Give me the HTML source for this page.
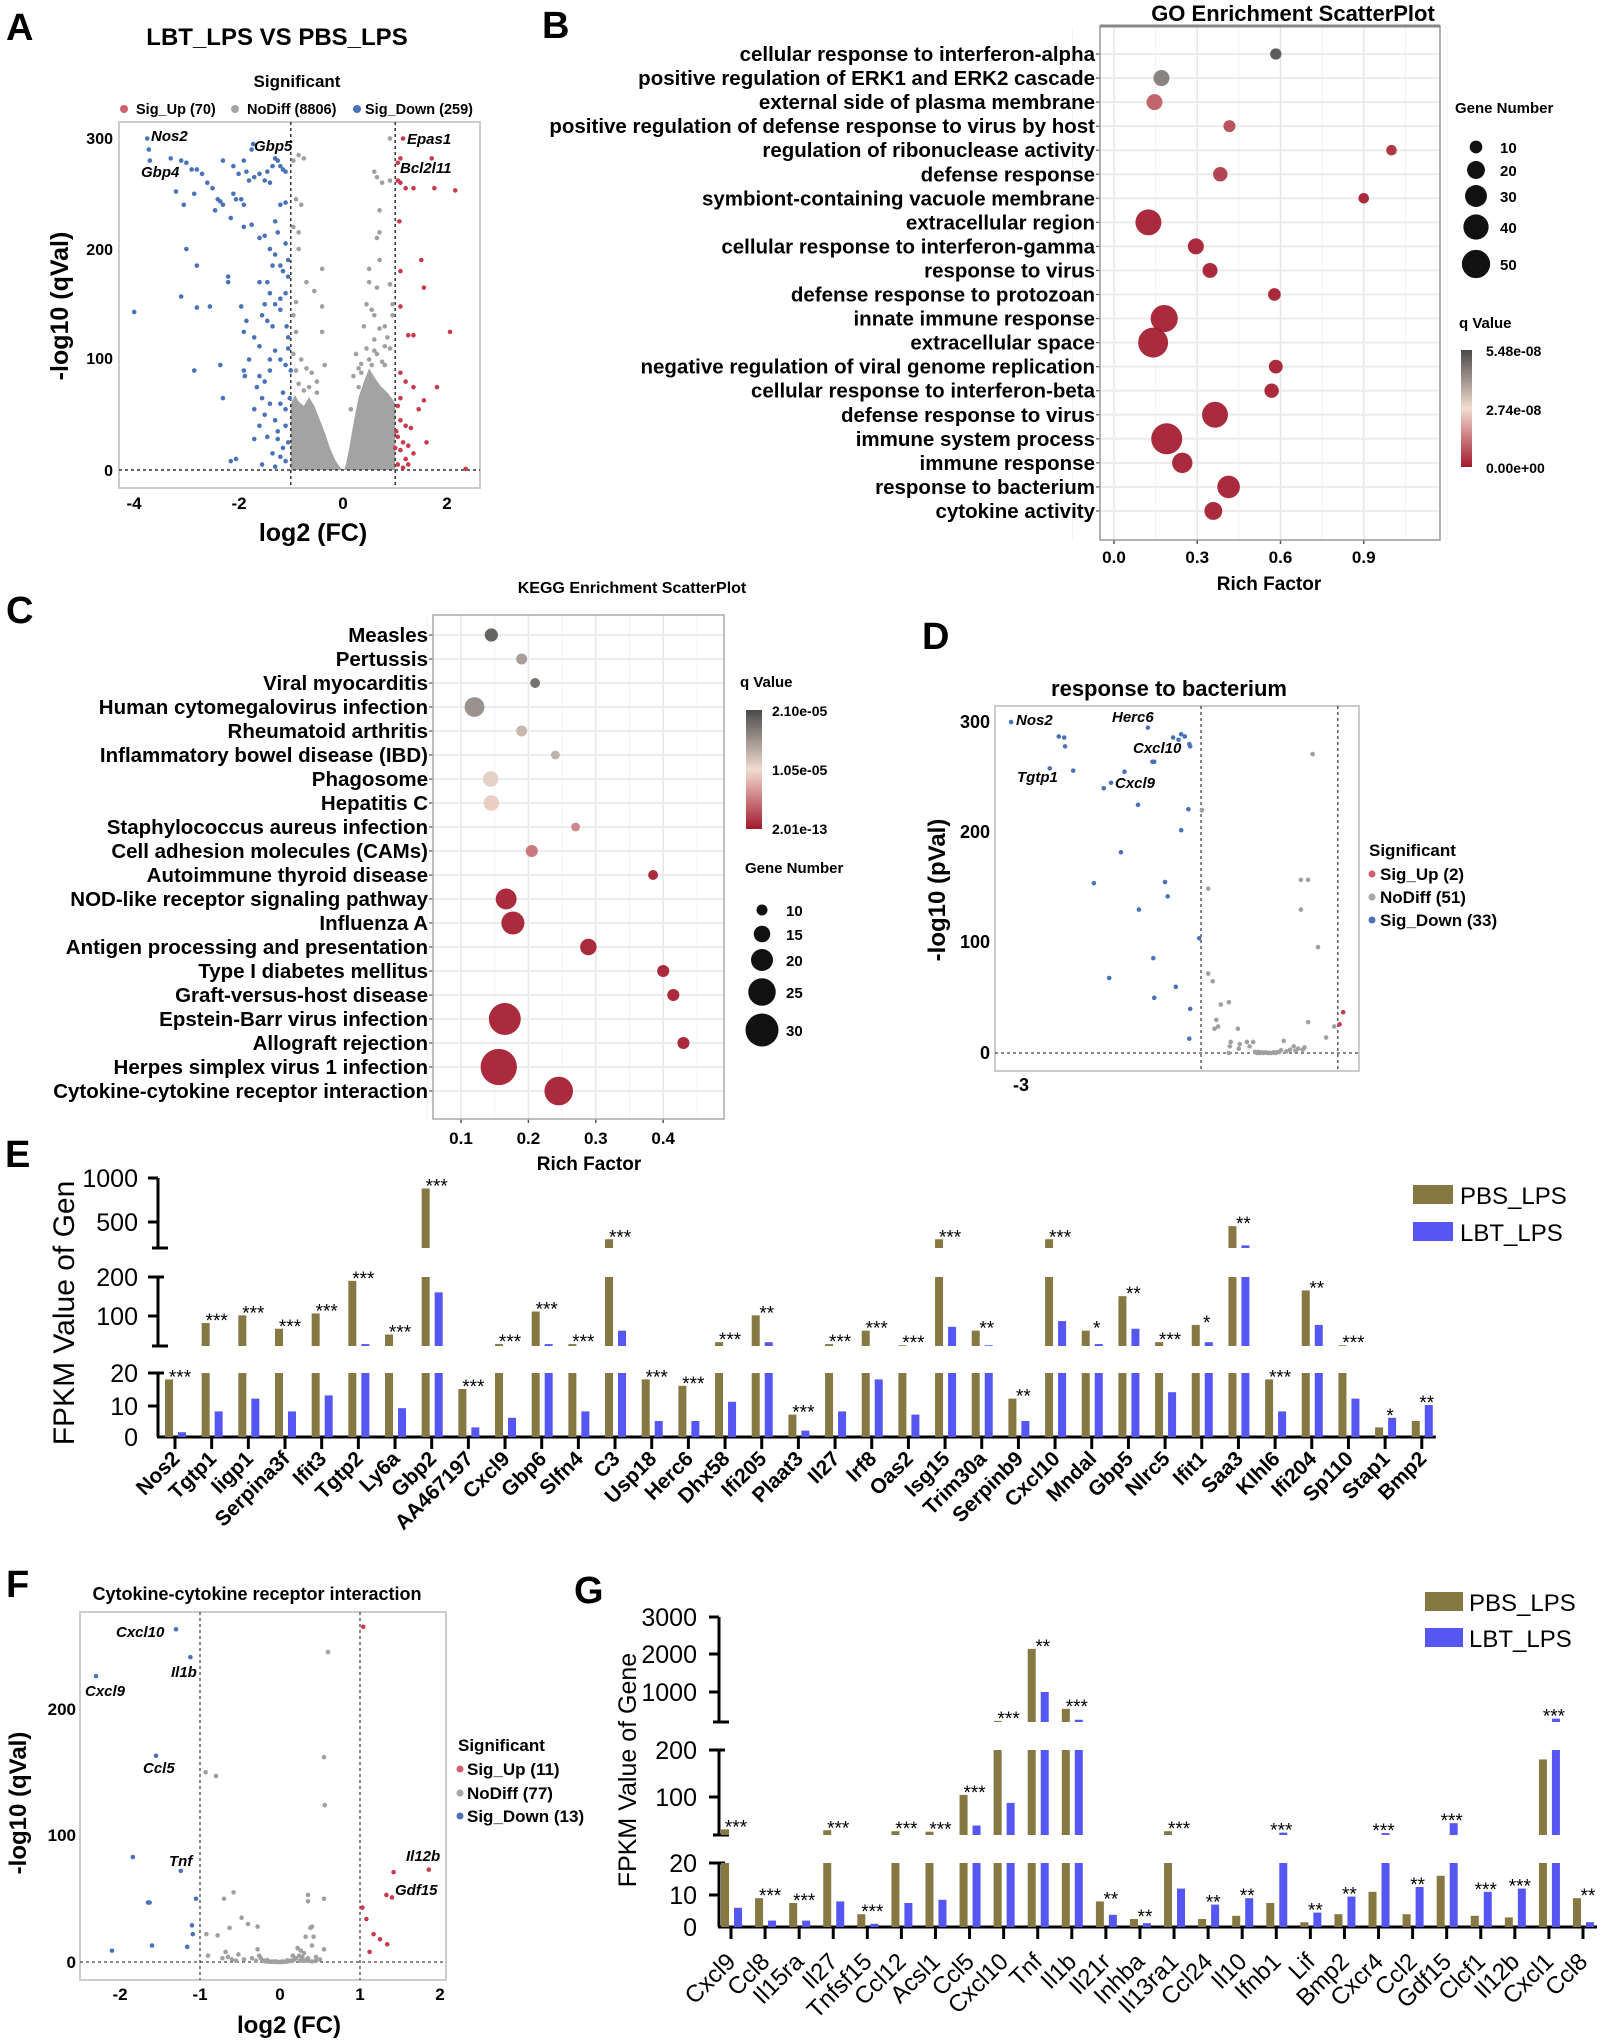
<!DOCTYPE html>
<html><head><meta charset="utf-8">
<style>
html,body{margin:0;padding:0;background:#fff;}
svg{display:block;font-family:"Liberation Sans",Arial,sans-serif;}
.b{font-weight:bold;}
</style></head>
<body>
<svg id="fig" width="1602" height="2041" viewBox="0 0 1602 2041" xmlns="http://www.w3.org/2000/svg">
<defs>
<linearGradient id="gradB" x1="0" y1="0" x2="0" y2="1"><stop offset="0" stop-color="#4a4a4a"/><stop offset="0.5" stop-color="#f2dccf"/><stop offset="1" stop-color="#a3192c"/></linearGradient>
</defs>
<g class="b" font-size="38" fill="#000">
<text x="6" y="40">A</text>
<text x="542" y="38">B</text>
<text x="6" y="623">C</text>
<text x="922" y="649">D</text>
<text x="5" y="1167">E</text>
<text x="6" y="1597">F</text>
<text x="574" y="1603">G</text>
</g>

<g>
<text x="277" y="45" text-anchor="middle" class="b" font-size="24">LBT_LPS VS PBS_LPS</text>
<text x="297" y="87" text-anchor="middle" class="b" font-size="17">Significant</text>
<g class="b" font-size="14.5">
<circle cx="124" cy="109" r="4" fill="#d06070"/><text x="136" y="114">Sig_Up (70)</text>
<circle cx="235" cy="109" r="4" fill="#a6a6a6"/><text x="247" y="114">NoDiff (8806)</text>
<circle cx="357" cy="109" r="4" fill="#4a72b8"/><text x="365" y="114">Sig_Down (259)</text>
</g>
<rect x="119" y="122" width="361" height="366" fill="none" stroke="#cccccc" stroke-width="2"/>
<g class="b" font-size="16" text-anchor="end">
<text x="113" y="144">300</text><text x="113" y="255">200</text><text x="113" y="364">100</text><text x="113" y="476">0</text>
</g>
<g class="b" font-size="17" text-anchor="middle">
<text x="134" y="509">-4</text><text x="239" y="509">-2</text><text x="343" y="509">0</text><text x="447" y="509">2</text>
</g>
<text transform="translate(68,306) rotate(-90)" text-anchor="middle" class="b" font-size="25">-log10 (qVal)</text>
<text x="313" y="541" text-anchor="middle" class="b" font-size="25">log2 (FC)</text>
<g id="aMarks"></g>
<g font-style="italic" class="b" font-size="15">
<text x="151" y="141">Nos2</text><text x="141" y="177">Gbp4</text><text x="254" y="151">Gbp5</text><text x="407" y="144">Epas1</text><text x="400" y="173">Bcl2l11</text>
</g>
</g>

<g>
<text x="1293" y="21" text-anchor="middle" class="b" font-size="22">GO Enrichment ScatterPlot</text>
<g id="bGrid"></g>
<rect x="1100" y="26" width="340" height="514" fill="none" stroke="#999" stroke-width="1.5"/>
<line x1="1100" y1="26" x2="1440" y2="26" stroke="#888" stroke-width="3"/>
<g id="bMarks"></g>
<text x="1269" y="590" text-anchor="middle" class="b" font-size="19">Rich Factor</text>
<text x="1455" y="113" class="b" font-size="15">Gene Number</text>
<g id="bSizeLeg"></g>
<text x="1459" y="328" class="b" font-size="15">q Value</text>
<rect x="1461" y="350" width="11" height="117" fill="url(#gradB)"/>
<g class="b" font-size="14">
<text x="1486" y="356">5.48e-08</text><text x="1486" y="415">2.74e-08</text><text x="1486" y="473">0.00e+00</text>
</g>
</g>

<g>
<text x="632" y="593" text-anchor="middle" class="b" font-size="16">KEGG Enrichment ScatterPlot</text>
<g id="cGrid"></g>
<rect x="433" y="615" width="291" height="504" fill="none" stroke="#aaa" stroke-width="1.5"/>
<g id="cMarks"></g>
<text x="589" y="1170" text-anchor="middle" class="b" font-size="19">Rich Factor</text>
<text x="740" y="687" class="b" font-size="15">q Value</text>
<rect x="746" y="710" width="16" height="119" fill="url(#gradB)"/>
<g class="b" font-size="14">
<text x="772" y="716">2.10e-05</text><text x="772" y="775">1.05e-05</text><text x="772" y="834">2.01e-13</text>
</g>
<text x="745" y="873" class="b" font-size="15">Gene Number</text>
<g id="cSizeLeg"></g>
</g>

<g>
<text x="1169" y="696" text-anchor="middle" class="b" font-size="22">response to bacterium</text>
<rect x="995" y="706" width="364" height="365" fill="none" stroke="#cccccc" stroke-width="2"/>
<g class="b" font-size="18" text-anchor="end">
<text x="990" y="728">300</text><text x="990" y="838">200</text><text x="990" y="948">100</text><text x="990" y="1059">0</text>
</g>
<text x="1021" y="1091" text-anchor="middle" class="b" font-size="18">-3</text>
<text transform="translate(945,890) rotate(-90)" text-anchor="middle" class="b" font-size="24">-log10 (pVal)</text>
<g id="dMarks"></g>
<g font-style="italic" class="b" font-size="15">
<text x="1016" y="725">Nos2</text><text x="1112" y="722">Herc6</text><text x="1133" y="753">Cxcl10</text><text x="1017" y="782">Tgtp1</text><text x="1115" y="788">Cxcl9</text>
</g>
<text x="1369" y="856" class="b" font-size="17">Significant</text>
<g class="b" font-size="17">
<circle cx="1372" cy="874" r="3.5" fill="#d06070"/><text x="1380" y="880">Sig_Up (2)</text>
<circle cx="1372" cy="897" r="3.5" fill="#a6a6a6"/><text x="1380" y="903">NoDiff (51)</text>
<circle cx="1372" cy="920" r="3.5" fill="#4a72b8"/><text x="1380" y="926">Sig_Down (33)</text>
</g>
</g>

<g>
<g font-size="25" text-anchor="end">
<text x="138" y="1187">1000</text><text x="138" y="1231">500</text><text x="138" y="1286">200</text><text x="138" y="1325">100</text><text x="138" y="1382">20</text><text x="138" y="1415">10</text><text x="138" y="1446">0</text>
</g>
<g stroke="#000" stroke-width="3" fill="none">
<line x1="158" y1="1178" x2="158" y2="1248"/><line x1="148" y1="1178" x2="158" y2="1178"/><line x1="148" y1="1222" x2="158" y2="1222"/><line x1="152" y1="1248" x2="168" y2="1248"/>
<line x1="158" y1="1277" x2="158" y2="1346"/><line x1="148" y1="1277" x2="164" y2="1277"/><line x1="148" y1="1316" x2="158" y2="1316"/><line x1="152" y1="1346" x2="168" y2="1346"/>
<line x1="158" y1="1373" x2="158" y2="1437"/><line x1="148" y1="1373" x2="164" y2="1373"/><line x1="148" y1="1406" x2="158" y2="1406"/>
</g>
<text transform="translate(74,1313) rotate(-90)" text-anchor="middle" font-size="30">FPKM Value of Gen</text>
<g id="eMarks"></g>
<rect x="1413" y="1185" width="40" height="19" fill="#857843"/>
<text x="1460" y="1204" font-size="24">PBS_LPS</text>
<rect x="1413" y="1222" width="40" height="19" fill="#5656f2"/>
<text x="1460" y="1241" font-size="24">LBT_LPS</text>
</g>

<g>
<text x="257" y="1600" text-anchor="middle" class="b" font-size="18">Cytokine-cytokine receptor interaction</text>
<rect x="80" y="1612" width="366" height="368" fill="none" stroke="#cccccc" stroke-width="2"/>
<g class="b" font-size="17" text-anchor="end">
<text x="76" y="1715">200</text><text x="76" y="1841">100</text><text x="76" y="1968">0</text>
</g>
<g class="b" font-size="17" text-anchor="middle">
<text x="120" y="2000">-2</text><text x="200" y="2000">-1</text><text x="280" y="2000">0</text><text x="360" y="2000">1</text><text x="440" y="2000">2</text>
</g>
<text transform="translate(26,1803) rotate(-90)" text-anchor="middle" class="b" font-size="24">-log10 (qVal)</text>
<text x="289" y="2033" text-anchor="middle" class="b" font-size="24">log2 (FC)</text>
<g id="fMarks"></g>
<g font-style="italic" class="b" font-size="15">
<text x="116" y="1637">Cxcl10</text><text x="171" y="1677">Il1b</text><text x="85" y="1696">Cxcl9</text><text x="143" y="1773">Ccl5</text><text x="169" y="1866">Tnf</text><text x="406" y="1861">Il12b</text><text x="395" y="1895">Gdf15</text>
</g>
<text x="458" y="1751" class="b" font-size="17">Significant</text>
<g class="b" font-size="17">
<circle cx="460" cy="1769" r="3.5" fill="#d06070"/><text x="467" y="1775">Sig_Up (11)</text>
<circle cx="460" cy="1793" r="3.5" fill="#a6a6a6"/><text x="467" y="1799">NoDiff (77)</text>
<circle cx="460" cy="1816" r="3.5" fill="#4a72b8"/><text x="467" y="1822">Sig_Down (13)</text>
</g>
</g>

<g>
<g font-size="25" text-anchor="end">
<text x="697" y="1626">3000</text><text x="697" y="1663">2000</text><text x="697" y="1701">1000</text><text x="697" y="1759">200</text><text x="697" y="1806">100</text><text x="697" y="1872">20</text><text x="697" y="1904">10</text><text x="697" y="1936">0</text>
</g>
<g stroke="#000" stroke-width="3" fill="none">
<line x1="719" y1="1617" x2="719" y2="1722"/><line x1="709" y1="1617" x2="719" y2="1617"/><line x1="709" y1="1654" x2="719" y2="1654"/><line x1="709" y1="1692" x2="719" y2="1692"/><line x1="713" y1="1722" x2="729" y2="1722"/>
<line x1="719" y1="1750" x2="719" y2="1835"/><line x1="709" y1="1750" x2="725" y2="1750"/><line x1="709" y1="1797" x2="719" y2="1797"/><line x1="713" y1="1835" x2="729" y2="1835"/>
<line x1="719" y1="1863" x2="719" y2="1927"/><line x1="709" y1="1863" x2="725" y2="1863"/><line x1="709" y1="1895" x2="719" y2="1895"/>
</g>
<text transform="translate(636,1770) rotate(-90)" text-anchor="middle" font-size="25">FPKM Value of Gene</text>
<g id="gMarks"></g>
<rect x="1425" y="1592" width="38" height="19" fill="#857843"/>
<text x="1469" y="1611" font-size="24">PBS_LPS</text>
<rect x="1425" y="1628" width="38" height="19" fill="#5656f2"/>
<text x="1469" y="1647" font-size="24">LBT_LPS</text>
</g>
</svg>

<script>
const aDownX = [-3.75,-3.72,-3.7,-3.3,-3.1,-3.0,-2.8,-2.9,-2.7,-2.6,-2.5,-2.4,-2.35,-2.3,-2.45,-3.2,-3.05,-2.85,-2.3,-2.1,-2.0,-1.9,-1.85,-1.8,-1.7,-1.6,-1.5,-1.45,-1.4,-1.35,-1.3,-1.25,-1.2,-1.15,-1.1,-1.75,-1.72,-2.1,-2.05,-1.95,-1.9,-2.15,-1.9,-1.75,-1.2,-1.1,-1.3,-1.25,-1.5,-1.6,-1.4,-1.3,-1.2,-1.15,-1.35,-1.45,-1.6,-1.4,-1.5,-1.3,-1.55,-1.45,-1.35,-1.2,-1.1,-1.05,-1.05,-1.1,-2.2,-2.2,-2.8,-3.0,-3.1,-2.8,-2.55,-1.95,-1.85,-4.0,-1.9,-1.7,-1.6,-1.3,-1.2,-1.1,-1.4,-1.8,-1.9,-1.88,-2.35,-2.85,-2.3,-1.65,-1.5,-1.55,-1.4,-1.2,-1.1,-1.5,-1.3,-1.1,-1.6,-1.45,-1.25,-1.05,-1.35,-1.2,-1.1,-1.55,-1.3,-2.15,-2.05,-1.7,-1.15,-1.05,-1.08,-1.02,-1.0,-1.25,-1.15,-1.4,-1.6,-1.7,-1.05,-1.2];
const aDownY = [300,290,280,282,280,278,272,272,268,260,255,245,243,240,235,252,240,250,280,275,268,280,270,262,265,268,262,270,260,275,282,280,275,272,270,290,295,250,245,245,240,228,220,222,240,242,225,215,212,210,200,195,185,180,185,170,170,160,150,150,140,135,130,145,160,175,190,205,175,170,185,200,157,147,148,148,135,143,125,120,112,108,100,95,90,100,90,85,95,90,65,75,80,65,60,60,55,50,45,40,40,30,28,25,15,12,8,5,3,8,10,28,70,110,130,65,90,35,20,100,85,55,120,155];
const aUpX = [1.15,1.1,1.05,1.7,1.1,1.2,1.35,1.75,2.15,1.05,1.08,1.1,1.5,1.55,1.1,1.25,1.35,2.05,1.1,1.2,1.35,1.8,1.55,1.45,1.1,1.05,1.1,1.2,1.3,1.6,1.05,1.15,1.25,1.35,1.1,1.2,1.05,1.15,1.25,2.35,1.0,1.02];
const aUpY = [300,282,278,282,260,255,255,255,253,262,225,180,190,165,148,122,122,125,88,80,75,75,63,55,65,58,45,40,38,25,30,25,22,15,18,10,5,2,5,1,20,35];
const aGreyX = [-0.85,-0.75,-0.95,-0.9,-0.8,-0.95,-0.85,-0.85,-0.4,-0.7,-0.55,-0.9,-0.4,-0.95,-0.9,-0.4,-0.8,-0.35,0.9,0.6,0.65,0.9,0.75,0.7,0.7,0.65,0.7,0.5,0.5,0.9,0.65,0.95,0.45,0.55,0.6,0.7,0.8,0.4,0.45,0.6,0.9,0.25,0.55,0.75,-0.6,-0.7,-0.5,-0.9,-0.95,0.3,0.35,0.85,0.95,0.2,0.6,0.8,-0.65,-0.75,-0.5,0.35,0.5,0.8,0.65,-0.85,0.3,0.15];
const aGreyY = [285,282,280,245,240,220,215,200,182,170,162,152,148,140,125,125,100,95,300,270,265,262,260,235,215,210,190,182,170,168,165,150,150,145,140,128,130,130,110,108,110,105,95,98,88,92,80,90,105,92,96,120,140,85,118,112,75,72,70,88,100,95,105,78,75,55];
const aCloudLX = [-1.0,-1.0,-0.92,-0.85,-0.75,-0.65,-0.55,-0.45,-0.35,-0.25,-0.15,-0.05,0.0];
const aCloudLY = [0,60,68,62,58,66,58,46,34,20,9,2,0];
const aCloudRX = [0.02,0.06,0.12,0.2,0.3,0.4,0.5,0.6,0.72,0.85,0.95,1.0,1.0];
const aCloudRY = [0,6,20,42,66,80,92,84,76,70,64,60,0];
const aThresh = [-1, 1];

const bTerms = ["cellular response to interferon-alpha","positive regulation of ERK1 and ERK2 cascade","external side of plasma membrane","positive regulation of defense response to virus by host","regulation of ribonuclease activity","defense response","symbiont-containing vacuole membrane","extracellular region","cellular response to interferon-gamma","response to virus","defense response to protozoan","innate immune response","extracellular space","negative regulation of viral genome replication","cellular response to interferon-beta","defense response to virus","immune system process","immune response","response to bacterium","cytokine activity"];
const bRich = [0.583,0.171,0.146,0.416,1.0,0.383,0.9,0.124,0.295,0.346,0.578,0.181,0.141,0.583,0.568,0.364,0.19,0.246,0.413,0.358];
const bGenes = [8,16,16,9,7,13,7,42,16,14,10,46,56,12,13,42,60,26,32,20];
const bQ = [5.4e-8,4.6e-8,0.9e-8,0.6e-8,0.2e-8,0.4e-8,0,0,0,0,0,0,0,0,0,0,0,0,0,0];
const bTicks = [0.0,0.3,0.6,0.9];
const bSizeLegend = [10,20,30,40,50];

const cTerms = ["Measles","Pertussis","Viral myocarditis","Human cytomegalovirus infection","Rheumatoid arthritis","Inflammatory bowel disease (IBD)","Phagosome","Hepatitis C","Staphylococcus aureus infection","Cell adhesion molecules (CAMs)","Autoimmune thyroid disease","NOD-like receptor signaling pathway","Influenza A","Antigen processing and presentation","Type I diabetes mellitus","Graft-versus-host disease","Epstein-Barr virus infection","Allograft rejection","Herpes simplex virus 1 infection","Cytokine-cytokine receptor interaction"];
const cRich = [0.145,0.19,0.21,0.12,0.19,0.24,0.144,0.145,0.27,0.205,0.385,0.167,0.177,0.289,0.4,0.415,0.165,0.43,0.156,0.245];
const cGenes = [12,10,9,18,10,8,14,14,8,11,9,19,21,15,11,11,29,11,33,26];
const cQ = [2.0e-5,1.55e-5,1.9e-5,1.65e-5,1.35e-5,1.4e-5,1.15e-5,0.95e-5,0.55e-5,0.45e-5,0,0,0,0,0,0,0,0,0,0];
const cTicks = [0.1,0.2,0.3,0.4];
const cSizeLegend = [10,15,20,25,30];

const dDownX = [-3.11,-2.58,-2.52,-2.51,-2.68,-2.42,-1.85,-2.0,-2.08,-1.59,-1.31,-1.25,-1.22,-1.18,-1.13,-1.12,-1.54,-1.52,-1.70,-1.14,-1.22,-1.89,-2.19,-1.40,-1.37,-1.69,-1.02,-1.53,-2.02,-1.28,-1.52,-1.12,-1.13];
const dDownY = [300,287,286,278,258,256,255,245,240,295,286,284,289,287,280,278,264,264,225,221,202,182,154,155,142,130,104,86,68,60,50,40,13];
const dUpX = [0.58,0.54];
const dUpY = [37,26];
const dGreyX = [0.24,-0.99,-0.92,0.11,0.19,0.11,0.30,-0.92,-0.87,-0.78,-0.69,-0.83,-0.81,-0.85,-0.59,0.19,0.39,-0.08,0.03,0.08,-0.01,-0.67,-0.68,-0.57,-0.49,-0.42,-0.46,-0.69,-0.58,-0.40,-0.38,-0.35,-0.31,-0.26,-0.22,-0.17,-0.13,-0.11,-0.36,-0.33,-0.28,-0.2,-0.15,0.05,-0.05,0.15,0.13,-0.24,-0.3,-0.19,0.48];
const dGreyY = [271,220,149,157,157,130,96,72,65,44,46,30,24,22,22,28,14,11,6,4,3,10,6,8,10,10,6,0,4,1,0,0,0,0,0,0,1,2.5,1,0.5,0.5,0.3,0.8,2,1.5,5,3,0.2,0.4,0.6,24];
const dThresh = [-1, 0.52];

const eGenes = ["Nos2","Tgtp1","Iigp1","Serpina3f","Ifit3","Tgtp2","Ly6a","Gbp2","AA467197","Cxcl9","Gbp6","Slfn4","C3","Usp18","Herc6","Dhx58","Ifi205","Plaat3","Il27","Irf8","Oas2","Isg15","Trim30a","Serpinb9","Cxcl10","Mndal","Gbp5","Nlrc5","Ifit1","Saa3","Klhl6","Ifi204","Sp110","Stap1","Bmp2"];
const ePBS = [18,80,100,65,105,190,50,880,15,25,110,25,300,18,16,30,100,7,25,60,22,300,60,12,300,60,150,30,75,450,18,165,22,3,5];
const eLBT = [1.5,8,12,8,13,25,9,160,3,6,25,8,60,5,5,11,30,2,8,18,7,70,22,5,85,25,65,14,30,230,8,75,12,6,10];
const eSig = ["***","***","***","***","***","***","***","***","***","***","***","***","***","***","***","***","**","***","***","***","***","***","**","**","***","*","**","***","*","**","***","**","***","*","**"];

const fDownX = [-1.3,-1.12,-2.3,-1.55,-1.24,-1.84,-1.65,-1.63,-1.05,-1.1,-1.09,-1.6,-1.16,-2.1];
const fDownY = [263,241,226,163,72,83,47,47,50,29,22,13,12,9];
const fUpX = [1.04,1.86,1.42,1.33,1.4,1.03,1.08,1.17,1.25,1.34,1.12];
const fUpY = [265,73,71,53,51,43,34,22,18,14,8];
const fGreyX = [0.6,0.55,0.56,-0.93,-0.8,0.55,0.35,0.35,-0.58,-0.7,-0.48,-0.4,-0.28,-0.63,-0.92,-0.78,0.4,0.38,0.42,0.32,0.4,0.55,-0.28,-0.9,-0.68,-0.65,-0.52,-0.26,-0.24,0.22,0.26,0.3,0.24,0.28,0.2,0.16,-0.6,-0.55,-0.2,-0.18,-0.15,-0.12,-0.1,-0.08,-0.05,-0.02,0,0.02,0.05,0.08,0.1,0.12,0.14,-0.16,-0.13,0.18,0.25,0.3,0.35,0.4,0.45,-0.35,-0.45,0.5,-0.72,-0.05,0.03,0.06,-0.09,0.09,0.15,-0.22,0.35,0.45,0.27,-0.3,0.33];
const fGreyY = [245,162,124,150,147,50,53,48,55,50,35,30,28,27,22,21,28,27,20,20,13,10,10,5,8,4,6,5,3,11,9,7,5,4,3,5,2,1,1,0.5,0.3,0.2,0.2,0.1,0.1,0,0,0,0.1,0.3,0.5,1,1,1.5,0.5,2,1,1,1,0.5,1,3,2,2,3,0.5,0.5,0.2,0.4,1.2,0.8,0.8,3,4,2,1,1.5];
const fThresh = [-1, 1];

const gGenes = ["Cxcl9","Ccl8","Il15ra","Il27","Tnfsf15","Ccl12","Acsl1","Ccl5","Cxcl10","Tnf","Il1b","Il21r","Inhba","Il13ra1","Ccl24","Il10","Ifnb1","Lif","Bmp2","Cxcr4","Ccl2","Gdf15","Clcf1","Il12b","Cxcl1","Ccl8"];
const gPBS = [32,9,7.5,30,4,28,27,105,230,2150,550,8,2.5,28,2.5,3.5,7.5,1.5,4,11,4,16,3.5,3,180,9];
const gLBT = [6,2,2,8,1,7.5,8.5,40,88,1000,260,3.8,1.2,12,7,9,25,4.5,9.5,24,12.5,45,11,12,290,1.5];
const gSig = ["***","***","***","***","***","***","***","***","***","**","***","**","**","***","**","**","***","**","**","***","**","***","***","***","***","**"];

const NS = 'http://www.w3.org/2000/svg';
function mk(tag, attrs, parent) {
  const e = document.createElementNS(NS, tag);
  for (const k in attrs) e.setAttribute(k, attrs[k]);
  parent.appendChild(e);
  return e;
}
function hex(c){return [parseInt(c.substr(1,2),16),parseInt(c.substr(3,2),16),parseInt(c.substr(5,2),16)];}
function mix(a,b,t){const A=hex(a),B=hex(b);return 'rgb('+A.map((v,i)=>Math.round(v+(B[i]-v)*t)).join(',')+')';}
function qColor(t){t=Math.max(0,Math.min(1,t));return t<0.5?mix('#a3192c','#f2dccf',t*2):mix('#f2dccf','#4a4a4a',(t-0.5)*2);}
const C_UP='#c93a4d', C_DOWN='#4a72b8', C_GREY='#a0a0a0', C_PBS='#857843', C_LBT='#5656f2';

(function(){
  const g = document.getElementById('aMarks');
  const ax = x => 343 + x*52.2, ay = y => 470 - y*1.105;
  const pts = (X,Y) => X.map((x,i)=>ax(x)+','+ay(Y[i])).join(' ');
  let el = mk('polygon',{points:pts(aCloudLX,aCloudLY),fill:'#a3a3a3'},g);
  
  
  el = mk('polygon',{points:pts(aCloudRX,aCloudRY),fill:'#a3a3a3'},g);
  
  
  aThresh.forEach(t=>{
    const l = mk('line',{x1:ax(t),x2:ax(t),y1:122,y2:488,stroke:'#333','stroke-width':1.5,'stroke-dasharray':'3,3'},g);
    
    
  });
  const h = mk('line',{x1:119,x2:480,y1:ay(0),y2:ay(0),stroke:'#333','stroke-width':1.5,'stroke-dasharray':'3,3'},g);
  
  
  aGreyX.forEach((x,i)=>{
    const c = mk('circle',{cx:ax(x),cy:ay(aGreyY[i]),r:2.3,fill:C_GREY},g);
    
    
  });
  aDownX.forEach((x,i)=>{
    const c = mk('circle',{cx:ax(x),cy:ay(aDownY[i]),r:2.3,fill:C_DOWN},g);
    
    
  });
  aUpX.forEach((x,i)=>{
    const c = mk('circle',{cx:ax(x),cy:ay(aUpY[i]),r:2.3,fill:C_UP},g);
    
    
  });
})();

function enrich(cfg){
  const grid = document.getElementById(cfg.gridId), marks = document.getElementById(cfg.marksId);
  const sx = cfg.sx, ry = i => cfg.row0 + i*cfg.step;
  for (let v = cfg.minorStart; v <= cfg.minorEnd + 1e-9; v += cfg.minorStep) {
    const l = mk('line',{x1:sx(v),x2:sx(v),y1:cfg.top,y2:cfg.bottom,stroke:'#f2f2f2','stroke-width':1},grid);
    
    
  }
  cfg.ticks.forEach(t=>{
    const l = mk('line',{x1:sx(t),x2:sx(t),y1:cfg.top,y2:cfg.bottom,stroke:'#e6e6e6','stroke-width':1.5},grid);
    
    
    const tk = mk('line',{x1:sx(t),x2:sx(t),y1:cfg.bottom,y2:cfg.bottom+4,stroke:'#555','stroke-width':1.5},grid);
    
    
    const tl = mk('text',{x:sx(t),y:cfg.tickY,'text-anchor':'middle','font-weight':'bold','font-size':17},grid);
    tl.textContent = t.toFixed(1);
    
    
  });
  cfg.terms.forEach((term,i)=>{
    const l = mk('line',{x1:cfg.left,x2:cfg.right,y1:ry(i),y2:ry(i),stroke:'#ececec','stroke-width':2},grid);
    
    
    const tk = mk('line',{x1:cfg.left-4,x2:cfg.left,y1:ry(i),y2:ry(i),stroke:'#555','stroke-width':1.2},grid);
    
    
    const t = mk('text',{x:cfg.left-5,y:ry(i)+7,'text-anchor':'end','font-weight':'bold','font-size':20.5},grid);
    t.textContent = term;
    
    
  });
  cfg.rich.forEach((r,i)=>{
    const c = mk('circle',{cx:sx(r),cy:ry(i),r:cfg.rad(cfg.genes[i]),fill:qColor(cfg.q[i]/cfg.qMax),'fill-opacity':0.92},marks);
    
    
  });
  const leg = document.getElementById(cfg.legId);
  cfg.sizeLeg.forEach((n,i)=>{
    const c = mk('circle',{cx:cfg.legX,cy:cfg.legY[i],r:cfg.rad(n),fill:'#111'},leg);
    
    
    const t = mk('text',{x:cfg.legX+24,y:cfg.legY[i]+6,'font-weight':'bold','font-size':15},leg);
    t.textContent = n;
    
    
  });
}
enrich({gridId:'bGrid',marksId:'bMarks',legId:'bSizeLeg',sx:r=>1114+r*277.5,row0:54,step:24.05,top:27,bottom:540,left:1100,right:1440,
  minorStart:-0.15,minorEnd:1.2,minorStep:0.15,ticks:bTicks,tickY:563,terms:bTerms,rich:bRich,genes:bGenes,q:bQ,qMax:5.48e-8,
  rad:n=>2*Math.sqrt(n),sizeLeg:bSizeLegend,legX:1476,legY:[147,170,196,227,264]});
enrich({gridId:'cGrid',marksId:'cMarks',legId:'cSizeLeg',sx:r=>461+(r-0.1)*674,row0:635,step:24,top:615,bottom:1119,left:433,right:724,
  minorStart:0.05,minorEnd:0.45,minorStep:0.05,ticks:cTicks,tickY:1144,terms:cTerms,rich:cRich,genes:cGenes,q:cQ,qMax:2.1e-5,
  rad:n=>0.55*n,sizeLeg:cSizeLegend,legX:762,legY:[910,934,960,992,1030]});

function volcano(gid,sx,sy,box,thr,down,up,grey,prefix){
  const g = document.getElementById(gid);
  thr.forEach(t=>{
    const l = mk('line',{x1:sx(t),x2:sx(t),y1:box[1],y2:box[3],stroke:'#444','stroke-width':1.3,'stroke-dasharray':'3,3'},g);
    
    
  });
  const h = mk('line',{x1:box[0],x2:box[2],y1:sy(0),y2:sy(0),stroke:'#444','stroke-width':1.3,'stroke-dasharray':'3,3'},g);
  
  
  grey[0].forEach((x,i)=>{
    const c = mk('circle',{cx:sx(x),cy:sy(grey[1][i]),r:2.3,fill:C_GREY},g);
    
    
  });
  down[0].forEach((x,i)=>{
    const c = mk('circle',{cx:sx(x),cy:sy(down[1][i]),r:2.3,fill:C_DOWN},g);
    
    
  });
  up[0].forEach((x,i)=>{
    const c = mk('circle',{cx:sx(x),cy:sy(up[1][i]),r:2.3,fill:C_UP},g);
    
    
  });
}
volcano('dMarks',x=>1201+(x+1)*90,y=>1053-y*1.103,[995,706,1359,1071],dThresh,[dDownX,dDownY],[dUpX,dUpY],[dGreyX,dGreyY],'d');
volcano('fMarks',x=>280+x*80,y=>1962-y*1.265,[80,1612,446,1980],fThresh,[fDownX,fDownY],[fUpX,fUpY],[fGreyX,fGreyY],'f');

function bars(cfg){
  const g = document.getElementById(cfg.gid);
  const segs = cfg.segs;
  const yOf = v => { for (const s of segs) { if (v <= s[1] + 1e-9) { const c = Math.max(v, s[0]); return s[2] - (c - s[0])*(s[2]-s[3])/(s[1]-s[0]); } } const s = segs[segs.length-1]; return s[3]; };
  const ax = mk('line',{x1:cfg.axisX,x2:cfg.x0+(cfg.genes.length-1)*cfg.step+14,y1:segs[0][2],y2:segs[0][2],stroke:'#000','stroke-width':3},g);
  
  
  function drawBar(v,x0,color,name){
    segs.forEach(s=>{
      if (v > s[0]) {
        const top = s[2] - (Math.min(v,s[1]) - s[0])*(s[2]-s[3])/(s[1]-s[0]);
        const r = mk('rect',{x:x0,y:top,width:8,height:Math.max(0,s[2]-top),fill:color},g);
        
        
      }
    });
  }
  cfg.genes.forEach((gene,i)=>{
    const t = cfg.x0 + i*cfg.step;
    drawBar(cfg.pbs[i], t-10, C_PBS, cfg.p+'-bar-pbs');
    drawBar(cfg.lbt[i], t+3, C_LBT, cfg.p+'-bar-lbt');
    const tk = mk('line',{x1:t,x2:t,y1:segs[0][2],y2:segs[0][2]+12,stroke:'#000','stroke-width':3},g);
    
    
    const lx = t+6, ly = cfg.labelY;
    const lab = mk('text',{x:lx,y:ly,'text-anchor':'end','font-size':cfg.labelSize,'font-weight':cfg.labelWeight,transform:'rotate(-45 '+lx+' '+ly+')'},g);
    lab.textContent = gene;
    
    
    const topY = Math.min(yOf(cfg.pbs[i]), yOf(cfg.lbt[i]));
    const st = mk('text',{x:t+5,y:topY+4,'text-anchor':'middle','font-size':19},g);
    st.textContent = cfg.sig[i];
    
    
  });
}
bars({gid:'eMarks',p:'e',genes:eGenes,pbs:ePBS,lbt:eLBT,sig:eSig,x0:175,step:36.67,axisX:157,labelY:1460,labelSize:21,labelWeight:'bold',
  segs:[[0,20,1437,1373],[20,200,1346,1277],[200,1000,1248,1178]]});
bars({gid:'gMarks',p:'g',genes:gGenes,pbs:gPBS,lbt:gLBT,sig:gSig,x0:731,step:34.08,axisX:718,labelY:1963,labelSize:24,labelWeight:'normal',
  segs:[[0,20,1927,1863],[20,200,1835,1750],[200,3000,1722,1617]]});
</script>
</body></html>
